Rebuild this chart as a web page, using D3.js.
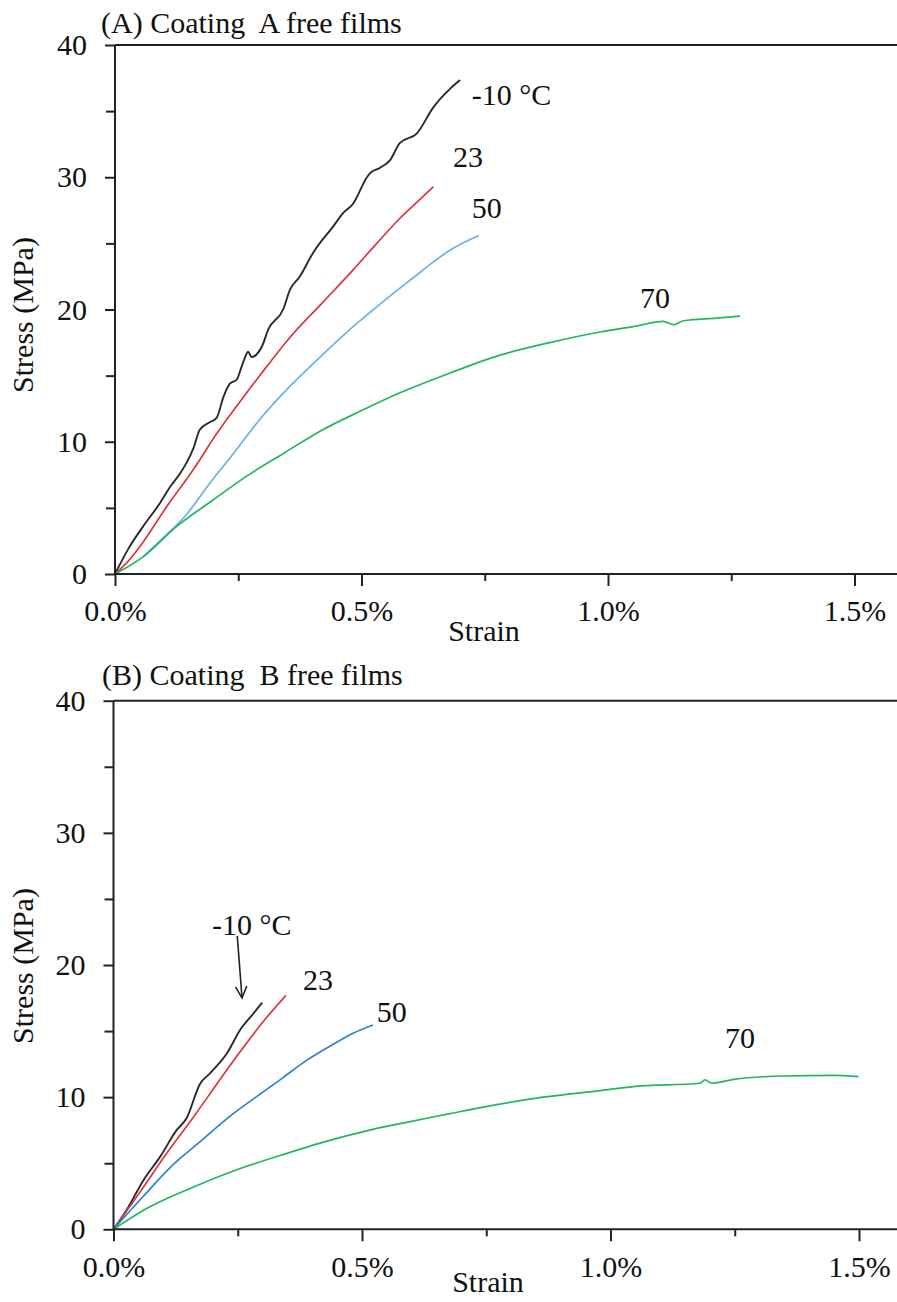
<!DOCTYPE html>
<html>
<head>
<meta charset="utf-8">
<script src="https://cdn.jsdelivr.net/npm/d3@7"></script>
<style>
  html, body { margin: 0; padding: 0; background: #fff; }
  svg { display: block; }
  text { font-family: "Liberation Serif", "Times New Roman", serif; fill: #111; }
</style>
</head>
<body>
<svg id="chart" width="897" height="1302"></svg>
<script>
// Stress–strain curves of free films, strain in %, stress in MPa.
const temperatures = ["-10", "23", "50", "70"];

// Coating A
const coatingA_m10 = [[0,0],[0.027,1.9],[0.057,3.6],[0.091,5.35],[0.112,6.6],[0.132,7.6],[0.145,8.4],[0.159,9.5],[0.172,10.9],[0.193,11.5],[0.206,11.8],[0.220,13.4],[0.233,14.4],[0.247,14.7],[0.257,15.7],[0.264,16.4],[0.270,16.8],[0.277,16.4],[0.287,16.6],[0.298,17.2],[0.311,18.5],[0.341,20.0],[0.355,21.5],[0.375,22.5],[0.402,24.3],[0.443,26.3],[0.463,27.3],[0.483,28.0],[0.511,30.0],[0.517,30.3],[0.537,30.7],[0.558,31.3],[0.578,32.6],[0.612,33.3],[0.646,35.3],[0.680,36.7],[0.700,37.35]];
const coatingA_23 = [[0,0],[0.025,0.9],[0.051,2.1],[0.105,5.1],[0.159,7.9],[0.206,10.6],[0.267,13.7],[0.308,15.7],[0.362,18.2],[0.423,20.6],[0.483,23.0],[0.531,25.0],[0.578,26.9],[0.612,28.1],[0.646,29.3]];
const coatingA_50 = [[0.057,1.3],[0.100,2.8],[0.145,4.5],[0.193,6.9],[0.240,9.1],[0.294,11.7],[0.355,14.2],[0.416,16.4],[0.483,18.7],[0.544,20.6],[0.605,22.4],[0.646,23.6],[0.680,24.5],[0.738,25.6]];
const coatingA_70 = [[0,0],[0.057,1.3],[0.125,3.6],[0.199,5.6],[0.267,7.4],[0.341,9.1],[0.416,10.8],[0.497,12.3],[0.578,13.7],[0.680,15.2],[0.781,16.55],[0.882,17.5],[0.984,18.3],[1.051,18.7],[1.112,19.1],[1.133,18.85],[1.153,19.15],[1.220,19.35],[1.268,19.5]];

// Coating B
const coatingB_m10 = [[0,0],[0.027,1.5],[0.060,3.7],[0.094,5.5],[0.127,7.5],[0.147,8.4],[0.174,11.0],[0.194,11.8],[0.228,13.3],[0.255,15.1],[0.281,16.3],[0.299,17.15]];
const coatingB_23 = [[0,0],[0.053,2.8],[0.107,5.75],[0.161,8.5],[0.209,11.05],[0.255,13.45],[0.301,15.7],[0.347,17.7]];
const coatingB_50 = [[0,0],[0.060,2.5],[0.120,4.9],[0.167,6.4],[0.241,8.75],[0.290,10.1],[0.342,11.5],[0.389,12.8],[0.442,14.0],[0.483,14.85],[0.522,15.46]];
const coatingB_70 = [[0,0],[0.073,1.7],[0.161,3.2],[0.255,4.6],[0.349,5.75],[0.442,6.8],[0.509,7.45],[0.577,8.0],[0.677,8.75],[0.744,9.25],[0.865,10.0],[0.979,10.5],[1.046,10.8],[1.180,11.05],[1.190,11.3],[1.204,11.05],[1.248,11.35],[1.348,11.6],[1.448,11.65],[1.499,11.55]];

// Axis ticks
const strainTicks = [0, 0.5, 1.0, 1.5];
const strainTickLabels = ["0.0%", "0.5%", "1.0%", "1.5%"];
const strainMinor = [0.25, 0.75, 1.25];
const stressTicks = [0, 10, 20, 30, 40];
const stressTickLabels = ["0", "10", "20", "30", "40"];
const stressMinor = [5, 15, 25, 35];

// Curve labels, anchored in data units [strain, stress]
const labelsA = [["-10 °C", 0.7235, 35.46], ["23", 0.6856, 30.8], ["50", 0.7235, 26.92], ["70", 1.0649, 20.09]];
const labelsB = [["-10 °C", 0.198, 22.3], ["23", 0.3813, 18.1], ["50", 0.5296, 15.7], ["70", 1.2304, 13.7]];

const colorsA = ["#2a2a2a", "#d8383c", "#6cb0e6", "#24b562"];
const colorsB = ["#2a2a2a", "#d8383c", "#2a82d2", "#24b562"];

const svg = d3.select("#chart");
const W = 897;
const FS = 30;

function panel(opts) {
  const x = d3.scaleLinear().domain([0, 1.6]).range([opts.x0, opts.x0 + 1.6 * opts.pxPerPct]);
  const y = d3.scaleLinear().domain([0, 40]).range([opts.yBottom, opts.yTop]);
  const g = svg.append("g");

  // curves
  const line = d3.line().x(d => x(d[0])).y(d => y(d[1])).curve(d3.curveMonotoneX);
  opts.series.forEach((s, i) => {
    g.append("path").datum(s)
      .attr("d", line)
      .attr("fill", "none")
      .attr("stroke", opts.colors[i])
      .attr("stroke-width", i === 0 ? 1.9 : 1.7)
      .attr("stroke-linejoin", "round");
  });

  const axisColor = "#222";
  // frame lines: top line at 40 MPa, the strain axis and the stress axis
  g.append("line").attr("x1", x(0)).attr("x2", W).attr("y1", y(40)).attr("y2", y(40))
    .attr("stroke", axisColor).attr("stroke-width", 2);
  g.append("line").attr("x1", x(0)).attr("x2", W).attr("y1", y(0)).attr("y2", y(0))
    .attr("stroke", axisColor).attr("stroke-width", 2);
  g.append("line").attr("x1", x(0)).attr("x2", x(0)).attr("y1", y(40)).attr("y2", y(0))
    .attr("stroke", axisColor).attr("stroke-width", 2);

  // stress axis
  const yAxis = d3.axisLeft(y).tickValues(stressTicks)
    .tickFormat((d, i) => stressTickLabels[i]).tickSize(10).tickPadding(18);
  const ya = g.append("g").attr("transform", `translate(${x(0)},0)`).call(yAxis);
  ya.select(".domain").remove();
  ya.selectAll("line").attr("stroke", axisColor).attr("stroke-width", 2);
  ya.selectAll("text").attr("font-size", FS).attr("fill", "#111");
  const yMinor = d3.axisLeft(y).tickValues(stressMinor).tickFormat("").tickSize(9);
  const ym = g.append("g").attr("transform", `translate(${x(0)},0)`).call(yMinor);
  ym.select(".domain").remove();
  ym.selectAll("line").attr("stroke", axisColor).attr("stroke-width", 2);

  // strain axis
  const xAxis = d3.axisBottom(x).tickValues(strainTicks)
    .tickFormat((d, i) => strainTickLabels[i]).tickSize(12).tickPadding(14);
  const xa = g.append("g").attr("transform", `translate(0,${y(0)})`).call(xAxis);
  xa.select(".domain").remove();
  xa.selectAll("line").attr("stroke", axisColor).attr("stroke-width", 2);
  xa.selectAll("text").attr("font-size", FS).attr("fill", "#111");
  const xMinor = d3.axisBottom(x).tickValues(strainMinor).tickFormat("").tickSize(7);
  const xm = g.append("g").attr("transform", `translate(0,${y(0)})`).call(xMinor);
  xm.select(".domain").remove();
  xm.selectAll("line").attr("stroke", axisColor).attr("stroke-width", 2);

  // titles
  g.append("text").attr("x", opts.titleX).attr("y", opts.titleY)
    .attr("font-size", FS).style("white-space", "pre").text(opts.title);
  g.append("text").attr("x", opts.strainX).attr("y", opts.strainY)
    .attr("text-anchor", "middle").attr("font-size", FS).text("Strain");
  g.append("text")
    .attr("transform", `translate(33,${opts.stressLabelY}) rotate(-90)`)
    .attr("text-anchor", "middle").attr("font-size", FS).text("Stress (MPa)");

  // curve labels
  opts.labels.forEach(l => {
    g.append("text").attr("x", x(l[1])).attr("y", y(l[2]))
      .attr("font-size", FS).style("white-space", "pre").text(l[0]);
  });

  return { g, x, y };
}

panel({
  x0: 115, pxPerPct: 493, yBottom: 574, yTop: 45,
  series: [coatingA_m10, coatingA_23, coatingA_50, coatingA_70],
  colors: colorsA, labels: labelsA,
  title: "(A) Coating  A free films", titleX: 101, titleY: 33,
  strainX: 484, strainY: 641, stressLabelY: 315
});

const pB = panel({
  x0: 113.5, pxPerPct: 497, yBottom: 1229.3, yTop: 700.7,
  series: [coatingB_m10, coatingB_23, coatingB_50, coatingB_70],
  colors: colorsB, labels: labelsB,
  title: "(B) Coating  B free films", titleX: 102, titleY: 685,
  strainX: 488, strainY: 1292, stressLabelY: 966
});

// arrow pointing from the -10 °C label to its curve
const arrowFrom = [0.249, 22.2], arrowTo = [0.2586, 17.5];
const ax1 = pB.x(arrowFrom[0]), ay1 = pB.y(arrowFrom[1]);
const ax2 = pB.x(arrowTo[0]), ay2 = pB.y(arrowTo[1]);
pB.g.append("line").attr("x1", ax1).attr("y1", ay1).attr("x2", ax2).attr("y2", ay2)
  .attr("stroke", "#222").attr("stroke-width", 1.6);
const ang = Math.atan2(ay2 - ay1, ax2 - ax1);
const head = 13, spread = 0.45;
pB.g.append("path")
  .attr("d", `M${ax2 - head * Math.cos(ang - spread)},${ay2 - head * Math.sin(ang - spread)} L${ax2},${ay2} L${ax2 - head * Math.cos(ang + spread)},${ay2 - head * Math.sin(ang + spread)}`)
  .attr("fill", "none").attr("stroke", "#222").attr("stroke-width", 1.6);
</script>
</body>
</html>
